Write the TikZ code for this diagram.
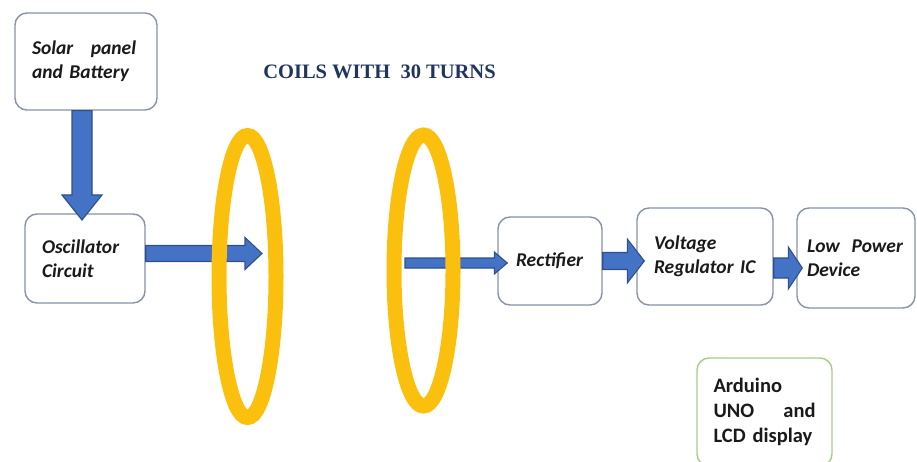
\documentclass[tikz,border=0pt]{standalone}
\usepackage{fontspec}
\setmainfont{Carlito}
\newfontfamily\titlefont{Liberation Serif}
\usetikzlibrary{calc,shapes.geometric}

\definecolor{arrowblue}{HTML}{4472C4}
\definecolor{arrowedge}{HTML}{2F4F8F}
\definecolor{coilgold}{HTML}{FBBF0E}
\definecolor{boxedge}{HTML}{8893A6}
\definecolor{boxgreen}{HTML}{A8CC8C}
\definecolor{titlenavy}{HTML}{1F3560}
\definecolor{inkgray}{HTML}{1A1A1A}

% block arrow pointing right: start, tip, shaft half width, head half width, head length
\newcommand\rightblock[5]{%
  \path[blockarrow] let \p1=(#1), \p2=(#2) in
    (\x1,\y1+#3) -- (\x2-#5,\y1+#3) -- (\x2-#5,\y1+#4) -- (\x2,\y1)
    -- (\x2-#5,\y1-#4) -- (\x2-#5,\y1-#3) -- (\x1,\y1-#3) -- cycle;}
% block arrow pointing down: start, tip, shaft half width, head half width, head length
\newcommand\downblock[5]{%
  \path[blockarrow] let \p1=(#1), \p2=(#2) in
    (\x1-#3,\y1) -- (\x1-#3,\y2+#5) -- (\x1-#4,\y2+#5) -- (\x1,\y2)
    -- (\x1+#4,\y2+#5) -- (\x1+#3,\y2+#5) -- (\x1+#3,\y1) -- cycle;}

\begin{document}
\begin{tikzpicture}[x=1pt,y=-1pt,
  box/.style={draw=boxedge, line width=1.4pt, rounded corners=12pt, fill=white,
    align=left, text=inkgray, inner ysep=0pt,
    font=\fontsize{19.5}{24}\selectfont\bfseries\itshape},
  greenbox/.style={box, draw=boxgreen, font=\fontsize{20.5}{25}\selectfont\bfseries},
  blockarrow/.style={fill=arrowblue, draw=arrowedge, line width=1.1pt, line join=miter},
  coil/.style={ellipse, draw=coilgold, line width=15pt, inner sep=0pt}]
\useasboundingbox (0,0) rectangle (917,462);

% title
\node[font=\titlefont\fontsize{20.5}{24}\selectfont\bfseries, text=titlenavy]
  (title) at (379.5,72) {COILS WITH\ \ 30 TURNS};

% blocks
\node[box, minimum width=142pt, minimum height=97pt, text width=108pt, inner xsep=17pt]
  (solar) at (86,61.5) {Solar\hspace{0.9em}panel\\and Battery};
\node[box, minimum width=120pt, minimum height=89pt, text width=86pt, inner xsep=17pt]
  (osc) at (85,258.5) {Oscillator\\Circuit};
\node[box, minimum width=104pt, minimum height=88pt, text width=68pt, inner xsep=18pt]
  (rect) at (550,261) {Rectifier};
\node[box, minimum width=136pt, minimum height=97pt, text width=102pt, inner xsep=17pt]
  (volt) at (705,256.5) {Voltage\\Regulator IC};
\node[box, minimum width=118pt, minimum height=100pt, text width=98pt, inner xsep=10pt]
  (low) at (856,258) {Low\hspace{0.6em}Power\\Device};
\node[greenbox, minimum width=135pt, minimum height=108pt, text width=102pt, inner xsep=16pt]
  (arduino) at (764.5,412) {Arduino\\UNO\hfill and\\LCD display};

% connectors
\coordinate (dtip) at (82,220);
\downblock{solar.south -| dtip}{dtip}{10pt}{20pt}{25pt}

\coordinate (tipA) at (262,253.5);
\rightblock{osc.east |- tipA}{tipA}{8pt}{16pt}{17pt}

\coordinate (leadB) at (405,263);
\coordinate (tipB) at ($(rect.west |- leadB)+(10,0)$);
\rightblock{leadB}{tipB}{5pt}{11pt}{13pt}

\coordinate (tipV) at ($(volt.west |- rect.east)+(8,0)$);
\rightblock{rect.east}{tipV}{8.5pt}{22pt}{17pt}

\coordinate (tipL) at ($(low.west)+(6,10)$);
\rightblock{volt.east |- tipL}{tipL}{10pt}{21pt}{14pt}

% coils
\node[coil, minimum width=57pt, minimum height=282pt] (coilA) at (247.5,276.5) {};
\node[coil, minimum width=59pt, minimum height=271pt] (coilB) at (423.5,270.5) {};
\end{tikzpicture}
\end{document}
